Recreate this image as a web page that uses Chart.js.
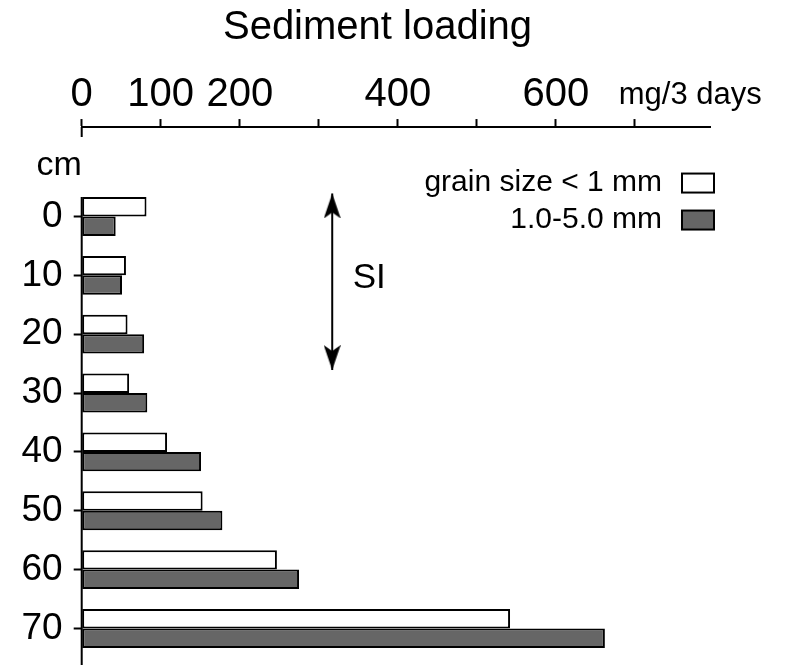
<!DOCTYPE html>
<html>
<head>
<meta charset="utf-8">
<script src="https://cdn.jsdelivr.net/npm/chart.js@4.4.1/dist/chart.umd.min.js"></script>
<style>
  html, body { margin: 0; padding: 0; background: #fff; }
  #wrap { width: 785px; height: 665px; }
</style>
</head>
<body>
<div id="wrap"><canvas id="chart"></canvas></div>
<script>
// depth in cm, loading in mg/3 days
const depths = [0, 10, 20, 30, 40, 50, 60, 70];
const fineLoading = [82, 56, 58, 60, 108, 153, 247, 542];
const coarseLoading = [43, 51, 79, 83, 151, 178, 275, 662];
const seriesLabels = ["grain size < 1 mm", "1.0-5.0 mm"];
const xTickValues = [0, 100, 200, 300, 400, 500, 600, 700, 770];
const xTickLabels = ["0", "100", "200", "", "400", "", "600", "", "mg/3 days"];
const unitTick = 770;
// SI arrow: depth range and where it sits on the loading axis
const siDepths = [-3.9, 26.1];
const siLoading = 317;

const FONT = "'Liberation Sans', Arial, sans-serif";
Chart.defaults.font.family = FONT;
Chart.defaults.color = "#000";

// arrowhead image, tip at the centre of the canvas
function makeHead() {
    const c = document.createElement("canvas");
    c.width = 17;
    c.height = 50;
    const g = c.getContext("2d");
    g.fillStyle = "#000";
    g.beginPath();
    g.moveTo(8.5, 25);
    g.lineTo(17, 50);
    g.lineTo(8.5, 44);
    g.lineTo(0, 50);
    g.closePath();
    g.fill();
    return c;
}
const head = makeHead();

function noPadding(s) {
    s.paddingTop = 0;
    s.paddingBottom = 0;
    s.paddingLeft = 0;
    s.paddingRight = 0;
}

const extras = {
    id: "extras",
    afterDraw(chart) {
        const { ctx, chartArea, scales: { x, y } } = chart;
        const firstBar = chart.getDatasetMeta(0).data[0];
        const x0 = x.getPixelForValue(0);
        ctx.save();
        ctx.strokeStyle = "#000";
        ctx.lineWidth = 2;
        ctx.beginPath();
        ctx.moveTo(x0, chartArea.top);
        ctx.lineTo(x0, chartArea.top + 10);
        ctx.moveTo(x0, firstBar.y - firstBar.height / 2);
        ctx.lineTo(x0, chart.height);
        ctx.stroke();

        ctx.fillStyle = "#000";
        ctx.textBaseline = "middle";
        ctx.font = "34px " + FONT;
        ctx.textAlign = "right";
        ctx.fillText("cm", chartArea.left, chartArea.top + 39);

        ctx.font = "35px " + FONT;
        ctx.textAlign = "left";
        ctx.fillText("SI", x.getPixelForValue(343), y.getPixelForValue(10.6));

        // legend, text on the left of the swatch
        ctx.font = "30px " + FONT;
        ctx.textAlign = "right";
        chart.data.datasets.slice(0, 2).forEach((ds, i) => {
            const cy = chartArea.top + 56 + i * 37;
            const bx = chartArea.right - 28;
            ctx.fillStyle = "#000";
            ctx.fillText(ds.label, bx - 20, cy);
            ctx.fillStyle = ds.backgroundColor;
            ctx.fillRect(bx, cy - 9.5, 32, 19);
            ctx.strokeRect(bx, cy - 9.5, 32, 19);
        });
        ctx.restore();
    }
};

new Chart(document.getElementById("chart"), {
    type: "bar",
    data: {
        datasets: [{
            label: seriesLabels[0],
            data: depths.map((d, i) => ({ x: fineLoading[i], y: d })),
            backgroundColor: "#ffffff",
            borderColor: "#000",
            borderWidth: 2,
            borderSkipped: false
        }, {
            label: seriesLabels[1],
            data: depths.map((d, i) => ({ x: coarseLoading[i], y: d })),
            backgroundColor: "#666666",
            borderColor: "#000",
            borderWidth: 2,
            borderSkipped: false
        }, {
            type: "line",
            label: "SI",
            data: siDepths.map(d => ({ x: siLoading, y: d })),
            borderColor: "#000",
            borderWidth: 2,
            pointRadius: 5,
            pointStyle: head,
            pointRotation: (ctx) => ctx.dataIndex === 0 ? 0 : 180
        }]
    },
    options: {
        indexAxis: "y",
        responsive: true,
        maintainAspectRatio: false,
        animation: false,
        events: [],
        categoryPercentage: 0.66,
        barPercentage: 1,
        layout: { padding: { left: 0, right: 30, top: 0, bottom: 0 } },
        plugins: {
            legend: { display: false },
            tooltip: { enabled: false },
            title: {
                display: true,
                text: "Sediment loading",
                font: { size: 40, weight: "normal" },
                color: "#000",
                padding: { top: 4, bottom: 19 }
            }
        },
        scales: {
            x: {
                position: "top",
                min: 0,
                max: 795,
                afterBuildTicks: (s) => { s.ticks = xTickValues.map(v => ({ value: v })); },
                afterFit: noPadding,
                ticks: {
                    autoSkip: false,
                    maxRotation: 0,
                    minRotation: 0,
                    padding: 0,
                    color: "#000",
                    callback: (v, i) => xTickLabels[i],
                    font: (ctx) => ctx.tick && ctx.tick.value === unitTick
                        ? { size: 31, lineHeight: 1.55 }
                        : { size: 40 }
                },
                grid: {
                    drawOnChartArea: false,
                    tickLength: 8,
                    tickWidth: 2,
                    tickColor: (ctx) => ctx.tick && ctx.tick.value === unitTick ? "rgba(0,0,0,0)" : "#000"
                },
                border: { display: true, color: "#000", width: 2 }
            },
            y: {
                type: "linear",
                reverse: true,
                offset: false,
                min: -15.19,
                max: 75.02,
                afterBuildTicks: (s) => { s.ticks = depths.map(v => ({ value: v })); },
                afterFit: (s) => { noPadding(s); s.width = 81.7; },
                ticks: {
                    padding: 11,
                    color: "#000",
                    font: { size: 37 },
                    callback: (v) => String(v)
                },
                grid: {
                    offset: false,
                    drawOnChartArea: false,
                    tickLength: 8,
                    tickWidth: 2,
                    tickColor: "#000"
                },
                border: { display: false }
            },
            // empty axis that only keeps room on the right of the plot
            spare: {
                type: "linear",
                position: "right",
                axis: "y",
                min: 0,
                max: 1,
                afterFit: (s) => { noPadding(s); s.width = 45; },
                ticks: { display: false },
                grid: { display: false },
                border: { display: false }
            }
        }
    },
    plugins: [extras]
});
</script>
</body>
</html>
